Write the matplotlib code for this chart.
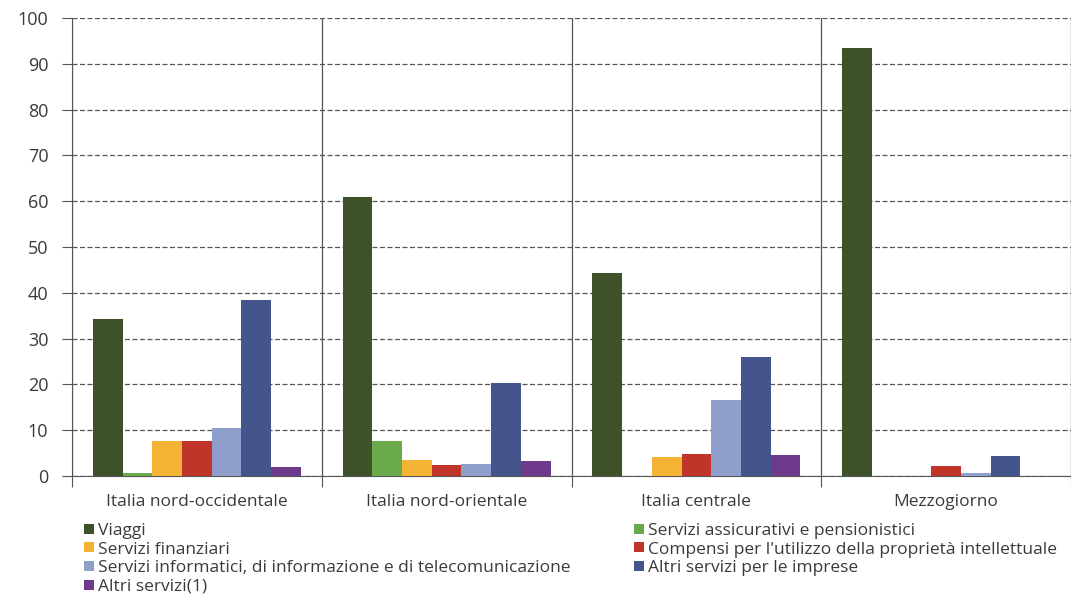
import numpy as np
import matplotlib.pyplot as plt
from matplotlib.patches import Patch

plt.rcParams['font.family'] = ['Open Sans', 'DejaVu Sans']

# regions on the x axis
regions = ['Italia nord-occidentale', 'Italia nord-orientale', 'Italia centrale', 'Mezzogiorno']

# share of each service type per region (%)
series_names = ['Viaggi',
                'Servizi assicurativi e pensionistici',
                'Servizi finanziari',
                "Compensi per l'utilizzo della proprietà intellettuale",
                'Servizi informatici, di informazione e di telecomunicazione',
                'Altri servizi per le imprese',
                'Altri servizi(1)']
viaggi = [34.3, 60.9, 44.4, 93.4]
assicurativi = [0.6, 7.6, 0.0, 0.0]
finanziari = [7.6, 3.6, 4.2, 0.0]
compensi = [7.6, 2.5, 4.9, 2.1]
informatici = [10.5, 2.7, 16.6, 0.6]
altri_imprese = [38.4, 20.2, 26.0, 4.4]
altri_servizi = [1.9, 3.3, 4.6, 0.0]

series = [viaggi, assicurativi, finanziari, compensi, informatici, altri_imprese, altri_servizi]
colors = ['#3d5229', '#6aaa4a', '#f5b335', '#c0342a', '#8e9fcb', '#43558a', '#6e3a8c']
txt = '#3a3a3a'

fig = plt.figure(figsize=(10.71, 5.96), dpi=100)
ax = fig.add_axes([72/1071, 1-476/596, 1-72/1071, (476-18)/596])

nbars = len(series)
width = 0.119
x = np.arange(len(regions)) + 0.5
for i, vals in enumerate(series):
    ax.bar(x + (i - (nbars-1)/2)*width, vals, width, color=colors[i], zorder=3)

ax.set_xlim(0, 4)
ax.set_ylim(0, 100)
ax.set_yticks(np.arange(0, 101, 10))

# boundaries between regions as major ticks, labels on minor ticks
ax.set_xticks(np.arange(0, 5))
ax.set_xticklabels([])
ax.set_xticks(x, minor=True)
ax.set_xticklabels(regions, minor=True)
ax.tick_params(axis='x', which='major', length=8, color='#555555', direction='out')
ax.tick_params(axis='x', which='minor', length=0, pad=13, labelsize=12.5, labelcolor=txt)
ax.tick_params(axis='y', length=7, color='#555555', pad=10, labelsize=13, labelcolor=txt)

ax.yaxis.grid(True, linestyle=(0, (4, 2)), color='#555555', linewidth=0.9, zorder=0)
ax.xaxis.grid(True, which='major', color='#555555', linewidth=0.9, zorder=0)

for s in ['top', 'right']:
    ax.spines[s].set_visible(False)
ax.spines['left'].set_color('#555555')
ax.spines['bottom'].set_color('#555555')

# legend laid out in two columns, filled row by row
handles = [Patch(facecolor=c, edgecolor='none') for c in colors]
left_idx = [0, 2, 4, 6]
right_idx = [1, 3, 5]
common = dict(frameon=False, fontsize=12.5, handlelength=0.6, handleheight=0.5,
              handletextpad=0.2, labelspacing=0.15, borderaxespad=0, borderpad=0,
              labelcolor=txt, loc='upper left')
leg1 = fig.legend([handles[i] for i in left_idx], [series_names[i] for i in left_idx],
                  bbox_to_anchor=(84/1071, 1-523/596), **common)
leg2 = fig.legend([handles[i] for i in right_idx], [series_names[i] for i in right_idx],
                  bbox_to_anchor=(634/1071, 1-523/596), **common)

fig.savefig('out.png', dpi=100)
